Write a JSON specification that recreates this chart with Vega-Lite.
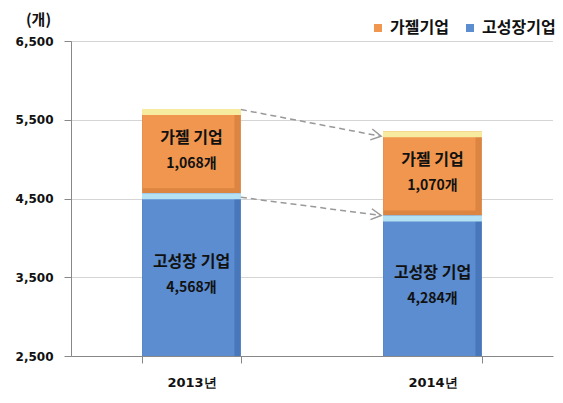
{
  "$schema": "https://vega.github.io/schema/vega-lite/v6.json",
  "width": 482,
  "height": 315,
  "autosize": {"type": "none"},
  "padding": {"left": 71, "top": 41, "right": 10, "bottom": 47},
  "background": "white",
  "config": {"view": {"stroke": null}},
  "datasets": {
    "bars": [
      {"year": "2013년", "type": "고성장기업", "label": "고성장 기업", "value": 4568},
      {"year": "2013년", "type": "가젤기업", "label": "가젤 기업", "value": 1068},
      {"year": "2014년", "type": "고성장기업", "label": "고성장 기업", "value": 4284},
      {"year": "2014년", "type": "가젤기업", "label": "가젤 기업", "value": 1070}
    ],
    "arrows": [
      {"series": "가젤기업", "from": "2013년", "to": "2014년", "start": 5630, "end": 5290},
      {"series": "고성장기업", "from": "2013년", "to": "2014년", "start": 4515, "end": 4284}
    ]
  },
  "layer": [
    {
      "data": {"name": "bars"},
      "transform": [
        {"stack": "value", "groupby": ["year"], "sort": [{"field": "type", "order": "descending"}], "as": ["y0", "y1"]},
        {"calculate": "(max(datum.y0, 2500) + datum.y1) / 2", "as": "mid"},
        {"calculate": "format(datum.value, ',') + '개'", "as": "num"}
      ],
      "layer": [
        {
          "transform": [{"filter": "datum.type == '가젤기업'"}],
          "mark": {"type": "bar", "clip": true, "color": "#DC8441"},
          "encoding": {
            "x": {
              "field": "year", "type": "nominal",
              "scale": {"paddingInner": 0.59, "paddingOuter": 0.295},
              "axis": {
                "title": null, "tickBand": "extent", "tickSize": 7, "tickColor": "#888888",
                "domainColor": "#888888", "labelFont": "DejaVu Sans", "labelFontSize": 13,
                "labelFontWeight": "bold", "labelColor": "#111111", "labelPadding": 13,
                "labelAngle": 0, "grid": false
              }
            },
            "y": {
              "field": "y1", "type": "quantitative",
              "scale": {"domain": [2500, 6500], "zero": false, "nice": false},
              "axis": {
                "values": [2500, 3500, 4500, 5500, 6500],
                "labelExpr": "format(datum.value, ',')",
                "labelFont": "DejaVu Sans", "labelFontSize": 12, "labelFontWeight": "bold",
                "labelColor": "#111111", "labelPadding": 11, "tickSize": 7, "tickColor": "#888888",
                "domainColor": "#888888", "gridColor": "#aaaaaa", "gridDash": [1, 1],
                "title": "(개)", "titleAngle": 0, "titleX": -33, "titleY": -22,
                "titleAlign": "center", "titleBaseline": "middle", "titleFont": "Noto Sans CJK KR",
                "titleFontSize": 15, "titleFontWeight": "bold", "titleColor": "#111111"
              }
            },
            "y2": {"field": "y0"}
          }
        },
        {
          "transform": [{"filter": "datum.type == '고성장기업'"}],
          "mark": {"type": "bar", "clip": true, "color": "#4877BC"},
          "encoding": {
            "x": {"field": "year", "type": "nominal"},
            "y": {"field": "y1", "type": "quantitative"},
            "y2": {"field": "y0"}
          }
        },
        {
          "mark": {"type": "bar", "clip": true, "width": {"band": 0.93}, "xOffset": -3, "y2Offset": -5},
          "encoding": {
            "x": {"field": "year", "type": "nominal"},
            "y": {"field": "y1", "type": "quantitative"},
            "y2": {"field": "y0"},
            "color": {
              "field": "type", "type": "nominal",
              "scale": {"domain": ["가젤기업", "고성장기업"], "range": ["#F0964E", "#5B8DD0"]},
              "legend": {
                "orient": "none", "legendX": 299, "legendY": -21, "direction": "horizontal",
                "title": null, "symbolType": "square", "symbolSize": 64, "symbolStrokeWidth": 0,
                "labelFont": "Noto Sans CJK KR", "labelFontSize": 16, "labelFontWeight": "bold",
                "labelColor": "#111111", "columnPadding": 13, "labelOffset": 4
              }
            }
          }
        },
        {
          "transform": [{"filter": "datum.type == '가젤기업'"}],
          "mark": {"type": "tick", "thickness": 6, "size": 99, "yOffset": 3, "color": "#F7EBA0", "opacity": 1},
          "encoding": {
            "x": {"field": "year", "type": "nominal"},
            "y": {"field": "y1", "type": "quantitative"}
          }
        },
        {
          "transform": [{"filter": "datum.type == '고성장기업'"}],
          "mark": {"type": "tick", "thickness": 6, "size": 99, "yOffset": 3, "color": "#B4E1F4", "opacity": 1},
          "encoding": {
            "x": {"field": "year", "type": "nominal"},
            "y": {"field": "y1", "type": "quantitative"}
          }
        },
        {
          "mark": {"type": "text", "font": "Noto Sans CJK KR", "fontSize": 16, "fontWeight": "bold", "color": "#111111", "dy": -13, "baseline": "middle"},
          "encoding": {
            "x": {"field": "year", "type": "nominal"},
            "y": {"field": "mid", "type": "quantitative"},
            "text": {"field": "label"}
          }
        },
        {
          "mark": {"type": "text", "font": "Noto Sans CJK KR", "fontSize": 14, "fontWeight": "bold", "color": "#111111", "dy": 13, "baseline": "middle"},
          "encoding": {
            "x": {"field": "year", "type": "nominal"},
            "y": {"field": "mid", "type": "quantitative"},
            "text": {"field": "num"}
          }
        }
      ]
    },
    {
      "data": {"name": "arrows"},
      "layer": [
        {
          "mark": {"type": "rule", "stroke": "#999999", "strokeWidth": 1.5, "strokeDash": [6, 4], "x2Offset": -2},
          "encoding": {
            "x": {"field": "from", "type": "nominal", "bandPosition": 1},
            "x2": {"field": "to", "bandPosition": 0},
            "y": {"field": "start", "type": "quantitative"},
            "y2": {"field": "end"}
          }
        },
        {
          "transform": [{"filter": "datum.series == '가젤기업'"}],
          "mark": {"type": "point", "shape": "M-1,-0.55L0,0L-1,0.55", "filled": false, "stroke": "#999999", "strokeWidth": 1.5, "size": 400, "angle": 10.6, "xOffset": -2, "opacity": 1},
          "encoding": {
            "x": {"field": "to", "type": "nominal", "bandPosition": 0},
            "y": {"field": "end", "type": "quantitative"}
          }
        },
        {
          "transform": [{"filter": "datum.series == '고성장기업'"}],
          "mark": {"type": "point", "shape": "M-1,-0.55L0,0L-1,0.55", "filled": false, "stroke": "#999999", "strokeWidth": 1.5, "size": 400, "angle": 7.4, "xOffset": -2, "opacity": 1},
          "encoding": {
            "x": {"field": "to", "type": "nominal", "bandPosition": 0},
            "y": {"field": "end", "type": "quantitative"}
          }
        }
      ]
    }
  ]
}
